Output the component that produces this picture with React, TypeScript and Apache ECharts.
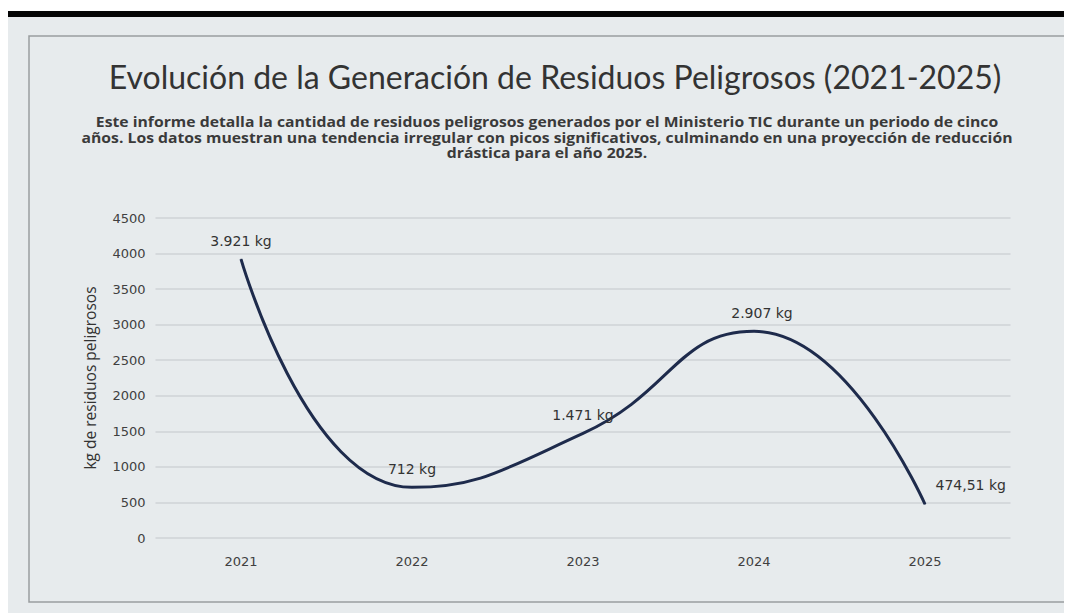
import React, { useEffect, useRef } from "react";
import * as echarts from "echarts";

const categories = ["2021", "2022", "2023", "2024", "2025"];
const values = [3921, 712, 1471, 2907, 474.51];
const valueLabels = ["3.921 kg", "712 kg", "1.471 kg", "2.907 kg", "474,51 kg"];
const yTicks = [0, 500, 1000, 1500, 2000, 2500, 3000, 3500, 4000, 4500];

const titleText = "Evolución de la Generación de Residuos Peligrosos (2021-2025)";
const subtitleLines = [
  "Este informe detalla la cantidad de residuos peligrosos generados por el Ministerio TIC durante un periodo de cinco",
  "años. Los datos muestran una tendencia irregular con picos significativos, culminando en una proyección de reducción",
  "drástica para el año 2025.",
];
const yAxisName = "kg de residuos peligrosos";

const FONT = "Lato, 'Open Sans', sans-serif";
const FONT2 = "'Open Sans', Lato, sans-serif";
const FONTNUM = "'DejaVu Sans', 'Open Sans', sans-serif";

export default function App() {
  const ref = useRef<HTMLDivElement>(null);
  useEffect(() => {
    if (!ref.current) return;
    const chart = echarts.init(ref.current, null, { renderer: "svg" });
    const labelConf = [
      { position: "top", distance: 11 },
      { position: "top", distance: 11 },
      { position: "top", distance: 11 },
      { position: "top", distance: 11, offset: [8, 0] },
      { position: "right", distance: 10, offset: [0, -19] },
    ];
    chart.setOption({
      animation: false,
      backgroundColor: "#e7ebed",
      textStyle: { fontFamily: FONT2 },
      graphic: [
        { type: "rect", shape: { x: 0, y: 0, width: 1064, height: 3 }, style: { fill: "#ffffff" }, silent: true },
        { type: "rect", shape: { x: 0, y: 3, width: 1064, height: 6 }, style: { fill: "#050505" }, silent: true },
        {
          type: "rect",
          shape: { x: 21, y: 28, width: 1036, height: 566 },
          style: { fill: "transparent", stroke: "#9a9ea0", lineWidth: 1.5 },
          silent: true,
          z: -1,
        },
        {
          type: "text",
          x: 547,
          y: 52,
          style: {
            text: titleText,
            fontSize: 32,
            fontFamily: FONT,
            fill: "#333333",
            textAlign: "center",
            textVerticalAlign: "top",
          },
        },
        {
          type: "text",
          x: 539,
          y: 106,
          scaleX: 1.125,
          style: {
            text: subtitleLines.join("\n"),
            fontSize: 14,
            lineHeight: 15.5,
            fontWeight: "bold",
            fontFamily: FONT2,
            fill: "#3a3a3a",
            textAlign: "center",
            textVerticalAlign: "top",
          },
        },
      ],
      grid: { left: 147.5, right: 61.5, top: 210, bottom: 75, containLabel: false },
      xAxis: {
        type: "category",
        data: categories,
        boundaryGap: true,
        axisLine: { show: false },
        axisTick: { show: false },
        axisLabel: { color: "#404040", fontSize: 13, margin: 17, fontFamily: FONTNUM },
      },
      yAxis: {
        type: "value",
        min: yTicks[0],
        max: yTicks[yTicks.length - 1],
        interval: 500,
        name: yAxisName,
        nameLocation: "middle",
        nameGap: 58,
        nameTextStyle: { color: "#333333", fontSize: 15.5, fontFamily: FONT2 },
        axisLine: { show: false },
        axisTick: { show: false },
        axisLabel: {
          color: "#404040",
          fontSize: 13,
          margin: 10,
          fontFamily: FONTNUM,
          formatter: (v: number) => String(v),
        },
        splitLine: { lineStyle: { color: "#cfd3d6", width: 1.5 } },
      },
      series: [
        {
          type: "line",
          data: values.map((v, i) => ({
            value: v,
            label: {
              show: true,
              formatter: valueLabels[i],
              ...labelConf[i],
            },
          })),
          smooth: 0.5,
          symbol: "circle",
          symbolSize: 1,
          itemStyle: { color: "#1e2b4c" },
          lineStyle: { color: "#1e2b4c", width: 3 },
          label: { color: "#333333", fontSize: 14, fontFamily: FONTNUM },
        },
      ],
    });
    return () => chart.dispose();
  }, []);
  return <div ref={ref} style={{ width: 1064, height: 605 }} />;
}
